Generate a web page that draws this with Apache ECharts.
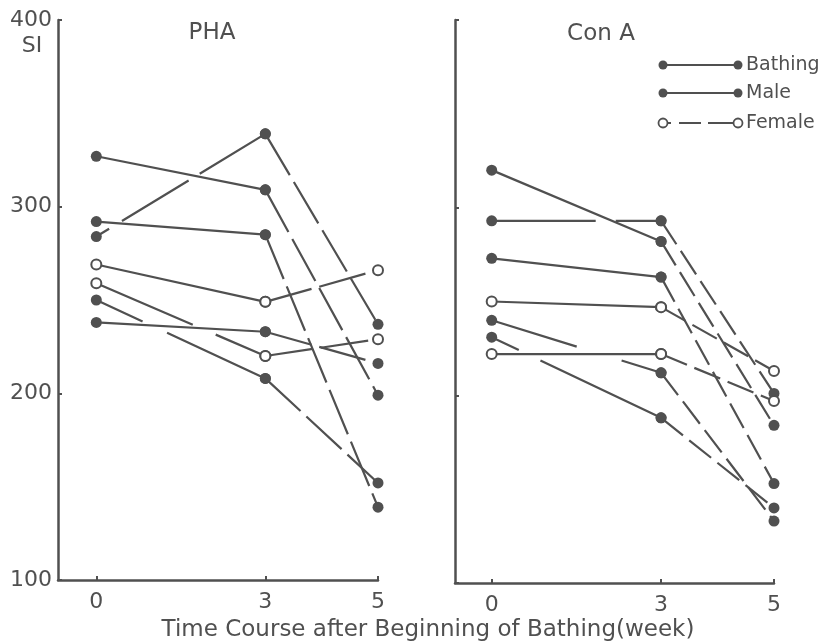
<!DOCTYPE html>
<html>
<head>
<meta charset="utf-8">
<script src="https://cdn.jsdelivr.net/npm/echarts@6/dist/echarts.min.js"></script>
<style>
  html, body { margin: 0; padding: 0; background: #fff; }
  #chart { width: 827px; height: 644px; }
</style>
</head>
<body>
<div id="chart"></div>
<script>
// weeks after beginning of bathing
var weeks = [0, 3, 5];
var yTicks = [100, 200, 300, 400];

// PHA panel, one entry per subject
var phaWeek0 = [327, 284, 292, 269, 259, 250, 238];
var phaWeek3 = [309, 339, 285, 249, 220, 208, 233];
var phaWeek5 = [199, 237, 139, 266, 229, 152, 216];
var phaFemale = [false, false, false, true, true, false, false];

// Con A panel
var conWeek0 = [320, 293, 273, 250, 240, 231, 222];
var conWeek3 = [282, 293, 263, 247, 212, 188, 222];
var conWeek5 = [184, 201, 153, 213, 133, 140, 197];
var conFemale = [false, false, false, true, false, false, true];

// broken strokes on the 0-3 week segments (null = solid)
var phaEarlyDash = [null, [15, 15, 78, 13, 80, 10], null, null, [105, 25, 60, 20], [51, 27, 110, 20], null];
var conEarlyDash = [null, [104, 20, 60, 10], null, null, [89, 47, 60, 10], [30, 24, 150, 10], null];
var phaLateDash = [48, 8];
var conLateDash = [28, 8];

var ink = '#505050';
var font = 'DejaVu Sans';

var myChart = echarts.init(document.getElementById('chart'));

function panelSeries(idx, w0, w3, w5, female, earlyDash, lateDash) {
    var out = [];
    for (var i = 0; i < w0.length; i++) {
        var common = {
            type: 'line',
            xAxisIndex: idx,
            yAxisIndex: idx,
            symbol: female[i] ? 'emptyCircle' : 'circle',
            symbolSize: female[i] ? 10 : 11,
            silent: true,
            itemStyle: { color: ink, borderColor: ink, borderWidth: female[i] ? 2 : 0 },
            emphasis: { disabled: true }
        };
        out.push(Object.assign({}, common, {
            data: [[weeks[0], w0[i]], [weeks[1], w3[i]]],
            lineStyle: { color: ink, width: 2.2, type: earlyDash[i] || 'solid' }
        }));
        out.push(Object.assign({}, common, {
            data: [[weeks[1], w3[i]], [weeks[2], w5[i]]],
            lineStyle: { color: ink, width: 2.2, type: lateDash }
        }));
    }
    return out;
}

function xAxisOf(idx, min) {
    return {
        type: 'value', gridIndex: idx, min: min, max: 5,
        splitLine: { show: false },
        axisLine: { show: true, onZero: false, lineStyle: { color: ink, width: 2.5 } },
        axisTick: { show: true, inside: true, length: 4, customValues: weeks, lineStyle: { color: ink, width: 2 } },
        axisLabel: { customValues: weeks, color: ink, fontSize: 22, fontFamily: font, margin: 11 }
    };
}

function yAxisOf(idx, showLabels) {
    return {
        type: 'value', gridIndex: idx, min: 100, max: 400, interval: 100,
        splitLine: { show: false },
        axisLine: { show: true, onZero: false, lineStyle: { color: ink, width: 2.5 } },
        axisTick: { show: true, inside: true, length: 4, lineStyle: { color: ink, width: 2 } },
        axisLabel: { show: showLabels, color: ink, fontSize: 22, fontFamily: font, margin: 6,
            customValues: yTicks }
    };
}

function legendRow(y, label, open) {
    var sym = open
        ? { fill: '#fff', stroke: ink, lineWidth: 1.8 }
        : { fill: ink };
    return [
        { type: 'line', shape: { x1: 663, y1: y, x2: 738, y2: y },
          style: { stroke: ink, lineWidth: 2, lineDash: open ? [8, 8, 22, 7, 22, 0] : null } },
        { type: 'circle', shape: { cx: 663, cy: y, r: 4.5 }, style: sym },
        { type: 'circle', shape: { cx: 738, cy: y, r: 4.5 }, style: sym },
        { type: 'text', x: 746, y: y, style: { text: label, fill: ink, font: '19px ' + font, textVerticalAlign: 'middle' } }
    ];
}

option = {
    backgroundColor: '#fff',
    animation: false,
    textStyle: { fontFamily: font },
    grid: [
        { left: 58, right: 449, top: 20, bottom: 64 },
        { left: 455, right: 53, top: 20, bottom: 61 }
    ],
    xAxis: [xAxisOf(0, -0.68), xAxisOf(1, -0.65)],
    yAxis: [yAxisOf(0, true), yAxisOf(1, false)],
    graphic: [
        { type: 'text', x: 32, y: 46, style: { text: 'SI', fill: ink, font: '22px ' + font, textAlign: 'center', textVerticalAlign: 'middle' } },
        { type: 'text', x: 212, y: 33, style: { text: 'PHA', fill: ink, font: '23px ' + font, textAlign: 'center', textVerticalAlign: 'middle' } },
        { type: 'text', x: 601, y: 34, style: { text: 'Con A', fill: ink, font: '23px ' + font, textAlign: 'center', textVerticalAlign: 'middle' } },
        { type: 'text', x: 428, y: 630, style: { text: 'Time Course after Beginning of Bathing(week)', fill: ink, font: '23px ' + font, textAlign: 'center', textVerticalAlign: 'middle' } }
    ].concat(legendRow(65, 'Bathing', false), legendRow(93, 'Male', false), legendRow(123, 'Female', true)),
    series: panelSeries(0, phaWeek0, phaWeek3, phaWeek5, phaFemale, phaEarlyDash, phaLateDash)
        .concat(panelSeries(1, conWeek0, conWeek3, conWeek5, conFemale, conEarlyDash, conLateDash))
};
myChart.setOption(option);
</script>
</body>
</html>
